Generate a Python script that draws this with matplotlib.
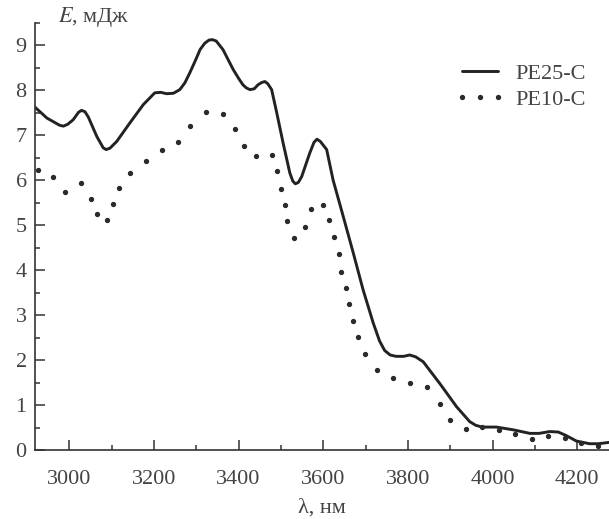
import numpy as np
import matplotlib
matplotlib.use('Agg')
import matplotlib.pyplot as plt
from matplotlib.ticker import MultipleLocator

plt.rcParams['font.family'] = ['Liberation Serif', 'DejaVu Serif']
plt.rcParams['mathtext.fontset'] = 'stix'

# PE25-C (сплошная линия)
lam_25 = [2919, 2947, 2977, 2986, 2996, 3009, 3022, 3029, 3037, 3045, 3065, 3080,
          3087, 3096, 3112, 3143, 3175, 3202, 3216, 3230, 3246, 3261, 3273, 3285,
          3298, 3309, 3320, 3330, 3338, 3347, 3363, 3375, 3387, 3400, 3410, 3418,
          3427, 3437, 3446, 3455, 3462, 3469, 3478, 3490, 3505, 3521, 3528, 3534,
          3541, 3549, 3568, 3578, 3585, 3593, 3608, 3623, 3647, 3671, 3694, 3718,
          3733, 3745, 3758, 3772, 3790, 3804, 3818, 3836, 3875, 3915, 3946, 3960,
          3975, 4009, 4048, 4088, 4110, 4135, 4155, 4172, 4198, 4229, 4250, 4275]
E_25 = [7.62, 7.38, 7.22, 7.20, 7.24, 7.34, 7.51, 7.55, 7.52, 7.40, 6.97, 6.72,
        6.68, 6.71, 6.86, 7.27, 7.68, 7.94, 7.95, 7.92, 7.93, 8.01, 8.16, 8.39,
        8.66, 8.90, 9.04, 9.11, 9.12, 9.09, 8.90, 8.68, 8.46, 8.26, 8.12, 8.05,
        8.01, 8.03, 8.12, 8.17, 8.19, 8.14, 8.01, 7.50, 6.83, 6.16, 5.98, 5.92,
        5.95, 6.08, 6.60, 6.84, 6.91, 6.86, 6.68, 6.01, 5.20, 4.38, 3.57, 2.83,
        2.43, 2.22, 2.12, 2.09, 2.09, 2.12, 2.08, 1.97, 1.49, 0.97, 0.64, 0.56,
        0.52, 0.52, 0.46, 0.38, 0.38, 0.42, 0.41, 0.34, 0.21, 0.15, 0.15, 0.18]

# PE10-C (точки)
lam_10 = [2927, 2962, 2991, 3028, 3051, 3065, 3088, 3104, 3117, 3143, 3181, 3218,
          3256, 3285, 3322, 3362, 3391, 3412, 3442, 3479, 3491, 3500, 3509, 3515,
          3531, 3557, 3572, 3600, 3614, 3626, 3637, 3643, 3653, 3661, 3671, 3682,
          3698, 3727, 3765, 3804, 3845, 3875, 3899, 3936, 3974, 4015, 4052, 4092,
          4131, 4171, 4208, 4248]
E_10 = [6.22, 6.08, 5.73, 5.93, 5.59, 5.25, 5.12, 5.47, 5.83, 6.16, 6.42, 6.66,
        6.84, 7.21, 7.51, 7.47, 7.14, 6.77, 6.54, 6.56, 6.20, 5.81, 5.46, 5.10,
        4.72, 4.97, 5.36, 5.46, 5.11, 4.74, 4.36, 3.97, 3.60, 3.26, 2.88, 2.51,
        2.14, 1.79, 1.60, 1.49, 1.40, 1.03, 0.68, 0.48, 0.53, 0.46, 0.37, 0.26,
        0.32, 0.27, 0.17, 0.11]

fig = plt.figure(figsize=(6.09, 5.19), dpi=100)
ax = fig.add_axes([0.0575, 0.132, 0.9425, 0.8246])

ax.plot(lam_25, E_25, color='#222222', lw=2.1, label='PE25-C',
        solid_capstyle='round', solid_joinstyle='round')
ax.plot(lam_10, E_10, linestyle='none', marker='o', ms=2.8, color='#2a2a2a',
        label='PE10-C')

ax.set_xlim(2919, 4275)
ax.set_ylim(0, 9.5)
ax.xaxis.set_major_locator(MultipleLocator(200))
ax.xaxis.set_minor_locator(MultipleLocator(100))
ax.yaxis.set_major_locator(MultipleLocator(1))
ax.yaxis.set_minor_locator(MultipleLocator(0.5))

for s in ['top', 'right']:
    ax.spines[s].set_visible(False)
for s in ['left', 'bottom']:
    ax.spines[s].set_linewidth(1.2)
    ax.spines[s].set_color('#333333')

ax.tick_params(which='major', direction='in', length=7, width=1.1, color='#333333',
               labelsize=16, labelcolor='#444444')
ax.tick_params(which='minor', direction='in', length=3.5, width=1.1, color='#333333')
ax.tick_params(axis='x', pad=14)
ax.tick_params(axis='y', pad=6)

fig.text(58 / 609, 1 - 17 / 519, r'$E$, мДж', fontsize=16, color='#444444',
         ha='left', va='center')
fig.text(322 / 609, 1 - 508 / 519, 'λ, нм', fontsize=16, color='#444444',
         ha='center', va='center')

leg = ax.legend(loc='upper left', bbox_to_anchor=(0.733, 0.905), frameon=False,
                fontsize=16, handlelength=2.2, handletextpad=0.5, labelspacing=0.25,
                borderpad=0, borderaxespad=0, numpoints=3)
for t in leg.get_texts():
    t.set_color('#444444')

fig.savefig('out.png', dpi=100, facecolor='white')
